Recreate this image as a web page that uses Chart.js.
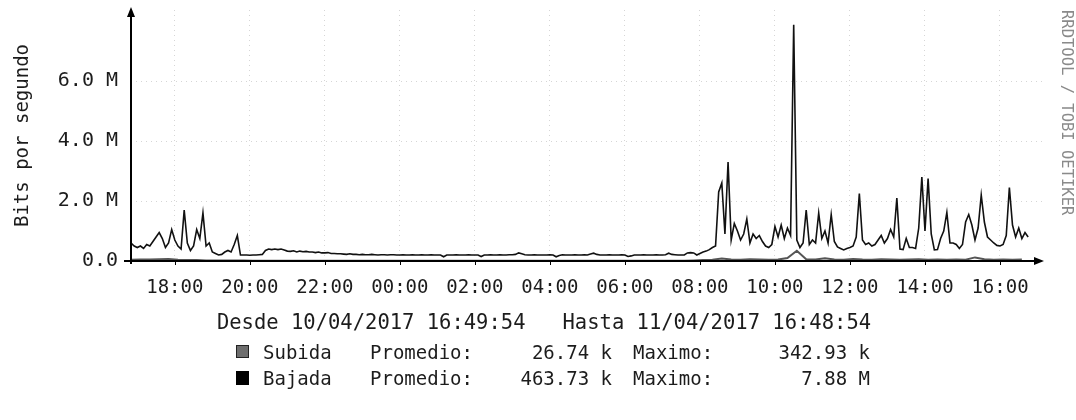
<!DOCTYPE html>
<html>
<head>
<meta charset="utf-8">
<script src="https://cdn.jsdelivr.net/npm/chart.js@4.4.0/dist/chart.umd.min.js"></script>
<style>
  html, body { margin: 0; padding: 0; background: #fff; }
  #wrap { width: 1076px; height: 420px; }
</style>
</head>
<body>
<div id="wrap"><canvas id="grafico" width="1076" height="420"></canvas></div>
<script>
// datos (Mbit/s), tiempo en horas desde 10/04 00:00
const inicio = 16 + 49 / 60 + 54 / 3600;   // 16:49:54
const fin = 41.12;                          // punta de la flecha del eje x

// Bajada: una muestra cada 5 minutos desde 16:50
const bajadaInicio = 16 + 50 / 60;
const bajadaPaso = 5 / 60;
const bajada = [
  0.6, 0.5, 0.45, 0.5, 0.42, 0.55, 0.5, 0.65, 0.8, 0.95,
  0.75, 0.45, 0.6, 1.05, 0.7, 0.5, 0.4, 1.7, 0.6, 0.35,
  0.5, 1.05, 0.75, 1.6, 0.5, 0.6, 0.3, 0.25, 0.2, 0.22,
  0.3, 0.35, 0.3, 0.55, 0.85, 0.2,
  0.2, 0.2, 0.19, 0.2, 0.2, 0.21, 0.22,
  0.35, 0.4, 0.38, 0.4, 0.38, 0.4, 0.37, 0.33, 0.32, 0.34,
  0.3, 0.33, 0.31, 0.32, 0.3, 0.3, 0.28, 0.3, 0.27, 0.27,
  0.28, 0.25, 0.25, 0.24, 0.24, 0.23, 0.22, 0.24, 0.22,
  0.22, 0.21, 0.22, 0.21, 0.21, 0.22, 0.21, 0.2, 0.21, 0.21,
  0.2, 0.21, 0.21, 0.2, 0.2, 0.21, 0.2, 0.2, 0.21, 0.2,
  0.2, 0.21, 0.2, 0.2, 0.21, 0.2, 0.2, 0.2, 0.14, 0.2,
  0.2, 0.2, 0.21, 0.2, 0.2, 0.2, 0.21, 0.2, 0.2, 0.2,
  0.15, 0.2, 0.2, 0.21, 0.2, 0.2, 0.21, 0.2, 0.2, 0.21,
  0.21, 0.22, 0.27, 0.24, 0.21, 0.2, 0.2, 0.21, 0.2, 0.2,
  0.2, 0.2, 0.21, 0.2, 0.14, 0.18, 0.21, 0.2, 0.2, 0.2,
  0.21, 0.2, 0.2, 0.21, 0.2, 0.23, 0.26, 0.22, 0.2, 0.2,
  0.2, 0.21, 0.2, 0.2, 0.2, 0.21, 0.2, 0.15, 0.17, 0.2,
  0.2, 0.2, 0.21, 0.2, 0.2, 0.2, 0.21, 0.2, 0.2, 0.21,
  0.26, 0.22, 0.21, 0.2, 0.2, 0.2, 0.27, 0.28, 0.27, 0.2,
  0.25, 0.3, 0.33, 0.38, 0.45, 0.5, 2.3, 2.6, 0.9, 3.3,
  0.7, 1.25, 1.0, 0.7, 0.9, 1.4, 0.6, 0.9, 0.75, 0.85,
  0.65, 0.5, 0.45, 0.55, 1.15, 0.8, 1.2, 0.75, 1.1, 0.85,
  7.88, 0.7, 0.45, 0.6, 1.7, 0.55, 0.7, 0.6, 1.6, 0.75,
  1.0, 0.6, 1.55, 0.65, 0.47, 0.42, 0.37, 0.42, 0.45, 0.5,
  0.8, 2.25, 0.7, 0.55, 0.6, 0.5, 0.55, 0.7, 0.85, 0.6,
  0.75, 1.05, 0.8, 2.1, 0.4, 0.38, 0.75, 0.45, 0.45, 0.42,
  1.1, 2.8, 1.0, 2.75, 0.9, 0.37, 0.38, 0.75, 1.0, 1.62,
  0.6, 0.6, 0.55, 0.42, 0.55, 1.3, 1.55, 1.2, 0.7, 1.1,
  2.2, 1.3, 0.8, 0.7, 0.6, 0.52, 0.5, 0.55, 0.85, 2.45,
  1.2, 0.8, 1.1, 0.75, 0.95, 0.8
];

// Subida: una muestra cada 15 minutos desde 16:50
const subidaInicio = 16 + 50 / 60;
const subidaPaso = 15 / 60;
const subida = [
  0.04, 0.05, 0.05, 0.06, 0.07, 0.04, 0.03, 0.03, 0.02, 0.02,
  0.02, 0.02, 0.02, 0.01, 0.01, 0.01, 0.01, 0.01, 0.01, 0.01,
  0.01, 0.01, 0.01, 0.01, 0.01, 0.01, 0.01, 0.01, 0.01, 0.01,
  0.01, 0.01, 0.01, 0.01, 0.01, 0.01, 0.01, 0.01, 0.01, 0.01,
  0.01, 0.01, 0.01, 0.01, 0.01, 0.01, 0.01, 0.01, 0.01, 0.01,
  0.01, 0.01, 0.01, 0.01, 0.01, 0.01, 0.01, 0.01, 0.01, 0.01,
  0.02, 0.03, 0.04, 0.08, 0.05, 0.04, 0.06, 0.05, 0.04, 0.05,
  0.1, 0.34, 0.06, 0.05, 0.09, 0.05, 0.04, 0.07, 0.05, 0.04,
  0.06, 0.05, 0.04, 0.05, 0.06, 0.04, 0.05, 0.04, 0.05, 0.04,
  0.12, 0.06, 0.04, 0.05, 0.04, 0.05
];

// ejes
const horasTicks = [18, 20, 22, 24, 26, 28, 30, 32, 34, 36, 38, 40];
const etiquetasX = ['18:00', '20:00', '22:00', '00:00', '02:00', '04:00',
                    '06:00', '08:00', '10:00', '12:00', '14:00', '16:00'];
const valoresY = [0, 2, 4, 6];
const etiquetasY = ['0.0', '2.0 M', '4.0 M', '6.0 M'];
const maxY = 8.37;

// leyenda
const series = ['Subida', 'Bajada'];
const promedios = ['26.74 k', '463.73 k'];
const maximos = ['342.93 k', '7.88 M'];
const rango = 'Desde 10/04/2017 16:49:54   Hasta 11/04/2017 16:48:54';
const marca = 'RRDTOOL / TOBI OETIKER';

const FUENTE = '"DejaVu Sans Mono", monospace';
const TINTA = '#1c1c1c';

const puntosBajada = bajada.map((v, i) => ({ x: bajadaInicio + i * bajadaPaso, y: v }));
const puntosSubida = subida.map((v, i) => ({ x: subidaInicio + i * subidaPaso, y: v }));

// ejes con flechas, leyenda y textos al pie
const extras = {
  id: 'extras',
  afterDraw(chart) {
    const ctx = chart.ctx;
    const a = chart.chartArea;
    ctx.save();
    ctx.strokeStyle = '#000';
    ctx.fillStyle = '#000';
    ctx.lineWidth = 2;
    ctx.beginPath();
    ctx.moveTo(a.left, a.bottom + 3);
    ctx.lineTo(a.left, a.top + 4);
    ctx.moveTo(a.left - 7, a.bottom);
    ctx.lineTo(a.right - 4, a.bottom);
    ctx.stroke();
    // flechas
    ctx.beginPath();
    ctx.moveTo(a.left, a.top - 3);
    ctx.lineTo(a.left - 4, a.top + 7);
    ctx.lineTo(a.left + 4, a.top + 7);
    ctx.closePath();
    ctx.fill();
    ctx.beginPath();
    ctx.moveTo(a.right + 2, a.bottom);
    ctx.lineTo(a.right - 8, a.bottom - 4);
    ctx.lineTo(a.right - 8, a.bottom + 4);
    ctx.closePath();
    ctx.fill();
    // marcas del eje x
    const sx = chart.scales.x;
    ctx.lineWidth = 1;
    horasTicks.forEach(h => {
      const px = Math.round(sx.getPixelForValue(h)) + 0.5;
      ctx.beginPath();
      ctx.moveTo(px, a.bottom);
      ctx.lineTo(px, a.bottom + 4);
      ctx.stroke();
    });

    // textos
    ctx.fillStyle = TINTA;
    ctx.font = '20.5px ' + FUENTE;
    ctx.textBaseline = 'alphabetic';
    ctx.textAlign = 'center';
    ctx.fillText(rango, 544, 329);

    ctx.font = '19px ' + FUENTE;
    const filas = [359, 385];
    series.forEach((s, i) => {
      const y = filas[i];
      if (i === 0) {
        ctx.fillStyle = '#6e6e6e';
        ctx.fillRect(236, y - 14, 13, 13);
        ctx.strokeStyle = '#222';
        ctx.lineWidth = 1;
        ctx.strokeRect(236.5, y - 13.5, 12, 12);
      } else {
        ctx.fillStyle = '#000';
        ctx.fillRect(236, y - 14, 13, 14);
      }
      ctx.fillStyle = TINTA;
      ctx.textAlign = 'left';
      ctx.fillText(s, 263, y);
      ctx.fillText('Promedio:', 370, y);
      ctx.fillText('Maximo:', 633, y);
      ctx.textAlign = 'right';
      ctx.fillText(promedios[i], 612, y);
      ctx.fillText(maximos[i], 870, y);
    });

    // marca de agua vertical
    ctx.fillStyle = '#8a8a8a';
    ctx.font = '15.5px ' + FUENTE;
    ctx.translate(1066, 10);
    ctx.rotate(Math.PI / 2);
    ctx.textAlign = 'left';
    ctx.textBaseline = 'middle';
    ctx.fillText(marca, 0, 0);
    ctx.restore();
  }
};

const ctx = document.getElementById('grafico').getContext('2d');
const grafico = new Chart(ctx, {
  type: 'line',
  data: {
    datasets: [
      {
        label: 'Bajada',
        data: puntosBajada,
        borderColor: '#111',
        borderWidth: 1.6,
        order: 0
      },
      {
        label: 'Subida',
        data: puntosSubida,
        borderColor: '#555',
        borderWidth: 2,
        order: 1
      }
    ]
  },
  options: {
    responsive: false,
    animation: false,
    layout: { padding: { top: 10, right: 34, bottom: 118, left: 0 } },
    elements: {
      point: { radius: 0 },
      line: { tension: 0, fill: false }
    },
    plugins: {
      legend: { display: false },
      tooltip: { enabled: false }
    },
    scales: {
      x: {
        type: 'linear',
        min: inicio,
        max: fin,
        afterBuildTicks: scale => {
          scale.ticks = horasTicks.map(h => ({ value: h }));
        },
        afterFit: scale => {
          scale.height = 41;
          scale.paddingLeft = 0;
          scale.paddingRight = 0;
        },
        ticks: {
          autoSkip: false,
          maxRotation: 0,
          padding: 16,
          color: TINTA,
          font: { family: FUENTE, size: 19 },
          callback: v => etiquetasX[horasTicks.indexOf(v)]
        },
        grid: { color: 'rgba(0,0,0,0.16)', lineWidth: 1, drawTicks: false },
        border: { display: false, dash: [1, 4] }
      },
      y: {
        min: 0,
        max: maxY,
        afterBuildTicks: scale => {
          scale.ticks = valoresY.map(v => ({ value: v }));
        },
        afterFit: scale => {
          scale.width = 131;
          scale.paddingTop = 0;
          scale.paddingBottom = 0;
        },
        ticks: {
          padding: 13,
          color: TINTA,
          font: { family: FUENTE, size: 20 },
          callback: v => etiquetasY[valoresY.indexOf(v)]
        },
        title: {
          display: true,
          text: 'Bits por segundo',
          color: TINTA,
          font: { family: FUENTE, size: 19 },
          padding: { top: 12, bottom: 0 }
        },
        grid: { color: 'rgba(0,0,0,0.16)', lineWidth: 1, drawTicks: false },
        border: { display: false, dash: [1, 4] }
      }
    }
  },
  plugins: [extras]
});
</script>
</body>
</html>
